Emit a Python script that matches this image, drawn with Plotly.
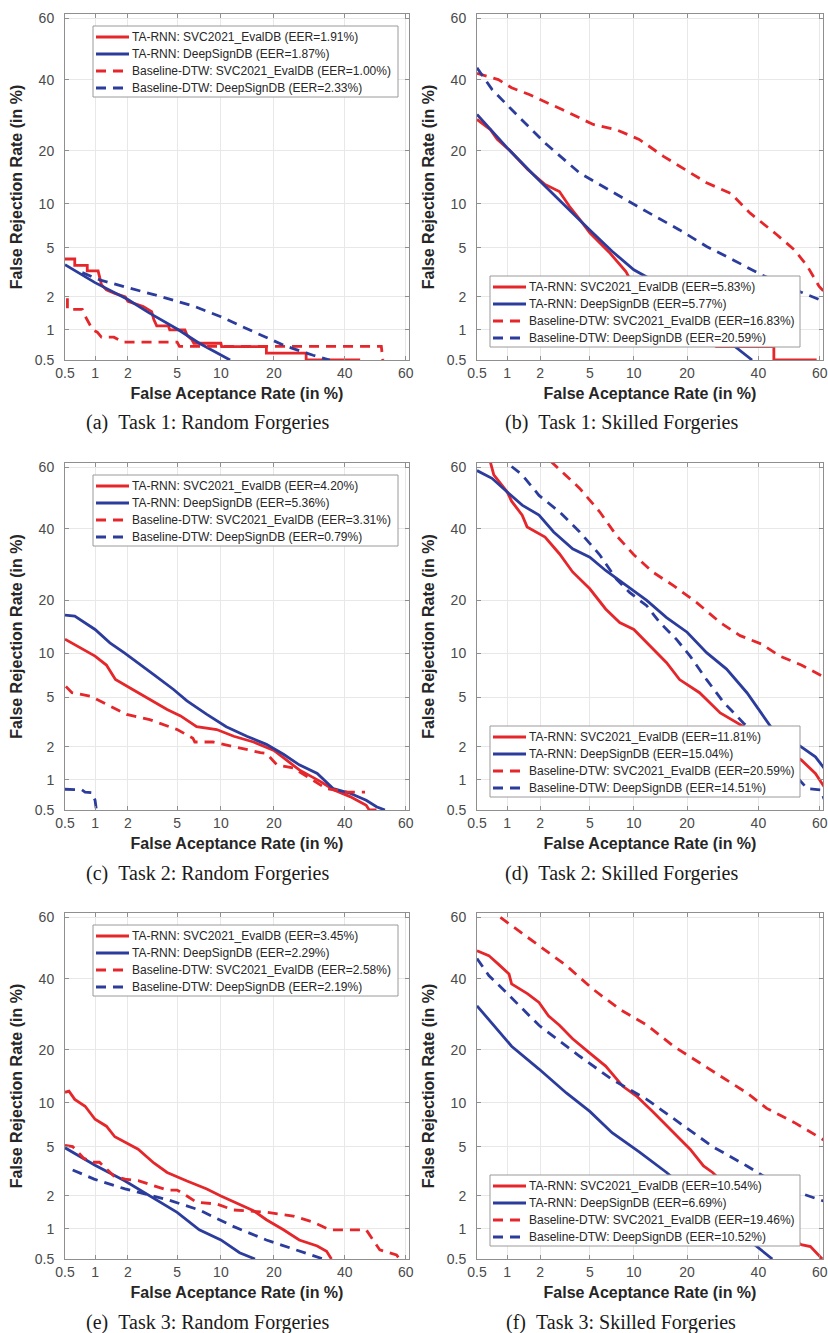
import plotly.graph_objects as go
from statistics import NormalDist

# ---------------- data (FAR / FRR in %) ----------------
TICK_VALS = [0.5, 1, 2, 5, 10, 20, 40, 60]
TICK_TEXT = ["0.5", "1", "2", "5", "10", "20", "40", "60"]

SERIES = ["TA-RNN: SVC2021_EvalDB", "TA-RNN: DeepSignDB",
          "Baseline-DTW: SVC2021_EvalDB", "Baseline-DTW: DeepSignDB"]

CAPTIONS = ["(a)\u00a0\u00a0Task 1: Random Forgeries", "(b)\u00a0\u00a0Task 1: Skilled Forgeries",
            "(c)\u00a0\u00a0Task 2: Random Forgeries", "(d)\u00a0\u00a0Task 2: Skilled Forgeries",
            "(e)\u00a0\u00a0Task 3: Random Forgeries", "(f)\u00a0\u00a0Task 3: Skilled Forgeries"]

EER_A = ["1.91", "1.87", "1.00", "2.33"]
EER_B = ["5.83", "5.77", "16.83", "20.59"]
EER_C = ["4.20", "5.36", "3.31", "0.79"]
EER_D = ["11.81", "15.04", "20.59", "14.51"]
EER_E = ["3.45", "2.29", "2.58", "2.19"]
EER_F = ["10.54", "6.69", "19.46", "10.52"]

# Panel (a)
a_rnn_svc_far = [0.5, 0.63, 0.63, 0.84, 0.84, 1.07, 1.15, 1.28, 1.53, 1.9, 2.0, 2.7, 3.17, 3.3, 3.48, 4.3, 4.4,
                 5.7, 5.9, 6.4, 6.6, 10.0, 10.1, 18.3, 18.3, 28.3, 28.3, 45]
a_rnn_svc_frr = [4.1, 4.1, 3.65, 3.65, 3.3, 3.3, 2.55, 2.3, 2.15, 2.0, 1.83, 1.65, 1.48, 1.25, 1.09, 1.09, 1.0,
                 1.0, 0.89, 0.8, 0.74, 0.74, 0.685, 0.685, 0.59, 0.59, 0.5, 0.5]
a_rnn_deep_far = [0.5, 1.0, 2.0, 3.0, 5.0, 7.2, 11.4]
a_rnn_deep_frr = [3.7, 2.65, 1.9, 1.45, 1.02, 0.74, 0.5]
a_dtw_svc_far = [0.53, 0.53, 0.75, 0.8, 0.95, 1.05, 1.15, 1.5, 1.8, 5.0, 5.2, 52, 52.5]
a_dtw_svc_frr = [1.95, 1.55, 1.55, 1.35, 1.0, 0.95, 0.85, 0.85, 0.76, 0.76, 0.69, 0.69, 0.5]
a_dtw_deep_far = [0.75, 1.1, 2.0, 3.3, 6.5, 10, 15.6, 23, 30.3, 35.3]
a_dtw_deep_frr = [3.2, 2.8, 2.4, 2.1, 1.67, 1.33, 0.96, 0.69, 0.56, 0.5]

# Panel (b)
b_rnn_svc_far = [0.5, 0.685, 0.8, 1.07, 1.55, 2.2, 2.9, 3.5, 4.2, 5.0, 6.9, 8.9, 9.4, 15, 22, 27.4, 45, 45, 59]
b_rnn_svc_frr = [28.0, 25.2, 22.7, 19.9, 15.9, 13.1, 11.9, 9.6, 7.9, 6.4, 4.6, 3.27, 2.87, 1.8, 1.0, 0.685, 0.685, 0.5, 0.5]
b_rnn_deep_far = [0.5, 1.03, 1.8, 3.05, 5.0, 7.2, 10, 12, 22.8, 38]
b_rnn_deep_frr = [29.4, 20.3, 14.6, 10.1, 6.7, 4.7, 3.37, 2.95, 1.29, 0.5]
b_dtw_svc_far = [0.5, 0.82, 1.1, 1.6, 3.05, 5.3, 7.7, 10.8, 15, 18.3, 24.8, 31.5, 37.4, 46, 51.8, 56, 59.8, 61.5]
b_dtw_svc_frr = [42, 40, 37.4, 35.3, 30.8, 26.6, 25.2, 22.7, 18.7, 16.6, 13.4, 11.6, 8.7, 6.2, 4.8, 3.6, 2.46, 2.2]
b_dtw_deep_far = [0.5, 0.71, 1.1, 2.2, 4.2, 8.1, 12, 18.3, 24.8, 32.5, 41, 54, 61.5]
b_dtw_deep_frr = [43.8, 36.9, 30.8, 21.8, 15.2, 11.1, 8.9, 6.7, 5.1, 4.0, 3.07, 2.2, 1.82]

# Panel (c)
c_rnn_svc_far = [0.5, 0.66, 1.0, 1.28, 1.55, 2.2, 3.05, 4.2, 5.3, 6.9, 9.4, 12, 15.6, 20, 23, 26.4, 32.5, 36.4,
                 41.7, 47, 48, 50.4]
c_rnn_svc_frr = [12.2, 11.1, 9.6, 8.4, 6.7, 5.7, 4.82, 4.04, 3.6, 2.95, 2.8, 2.46, 2.2, 1.86, 1.53, 1.24, 0.96, 0.8,
                 0.685, 0.56, 0.5, 0.5]
c_rnn_deep_far = [0.5, 0.63, 1.0, 1.38, 1.89, 2.45, 3.4, 4.7, 5.9, 8.1, 10.8, 14.3, 18.3, 22.3, 26.4, 31.5, 36.4,
                  41.7, 47, 50.4, 53.2]
c_rnn_deep_frr = [16.7, 16.5, 13.9, 11.6, 10, 8.7, 7.1, 5.7, 4.7, 3.7, 2.95, 2.46, 2.1, 1.72, 1.38, 1.15, 0.82,
                  0.74, 0.63, 0.54, 0.5]
c_dtw_svc_far = [0.51, 0.59, 0.9, 1.38, 1.95, 3.05, 3.9, 5.0, 6.5, 6.7, 8.9, 12, 17, 18.3, 20.7, 24.8, 28.5, 34.3, 41, 46.6]
c_dtw_svc_frr = [6.0, 5.4, 5.1, 4.3, 3.7, 3.37, 3.1, 2.8, 2.37, 2.2, 2.2, 2.0, 1.78, 1.75, 1.38, 1.29, 1.07, 0.82, 0.76, 0.76]
c_dtw_deep_far = [0.5, 0.74, 0.8, 0.93, 1.0, 1.03]
c_dtw_deep_frr = [0.81, 0.8, 0.76, 0.75, 0.63, 0.5]

# Panel (d)
d_rnn_svc_far = [0.68, 0.74, 1.0, 1.1, 1.38, 1.53, 2.2, 2.9, 3.7, 5, 6.5, 8.1, 10, 12, 15.6, 18.3, 23, 28.5, 35.3,
                 45, 54, 58.6, 61.8]
d_rnn_svc_frr = [62, 57.6, 52, 49, 44.4, 40.6, 37.4, 32.3, 27.1, 22.7, 18.0, 15.2, 13.9, 11.6, 8.7, 6.7, 5.4, 3.8,
                 2.95, 2.1, 1.53, 1.15, 0.82]
d_rnn_deep_far = [0.5, 0.71, 1.0, 1.38, 1.95, 2.6, 3.7, 5, 6.5, 8.9, 12, 15.6, 20, 24.8, 30.3, 36.4, 41, 44, 54,
                  58.6, 61.8]
d_rnn_deep_frr = [59, 56.5, 52, 47.7, 44.4, 39, 33.8, 31.3, 27.5, 23.5, 19.9, 16.2, 13.4, 10.1, 7.9, 5.4, 3.8,
                  2.95, 2.0, 1.63, 1.24]
d_dtw_svc_far = [2.45, 3.05, 4.2, 5.9, 7.7, 10, 13, 17, 22.3, 28.5, 34.3, 41, 47, 54, 61.8]
d_dtw_svc_frr = [62, 58.6, 53.2, 45.5, 37.9, 32, 27.1, 23.5, 19.4, 15.2, 12.8, 11.4, 9.6, 8.4, 6.9]
d_dtw_deep_far = [1.1, 1.38, 1.95, 2.9, 4.2, 5.9, 7.7, 9.4, 12, 14.3, 17.6, 20.7, 24.8, 29.4, 35.3, 45, 56, 60.2, 61.8]
d_dtw_deep_frr = [60.3, 57.6, 50.9, 45.5, 39, 32, 25.2, 21.8, 18.7, 15.2, 12.2, 9.6, 6.7, 4.6, 3.17, 1.8, 0.82, 0.8, 0.6]

# Panel (e)
e_rnn_svc_far = [0.5, 0.55, 0.63, 0.8, 1.0, 1.28, 1.53, 1.89, 2.45, 3.3, 4.2, 5.9, 8.1, 10, 13, 15.6, 18.3, 22.3,
                 26.4, 31.5, 34.3, 35.8]
e_rnn_svc_frr = [11.6, 11.8, 10.5, 9.5, 7.8, 7.0, 5.9, 5.35, 4.78, 3.75, 3.15, 2.68, 2.3, 2.0, 1.7, 1.48, 1.22, 0.98,
                 0.78, 0.68, 0.6, 0.5]
e_rnn_deep_far = [0.5, 1.0, 1.89, 3.05, 5.0, 7.2, 10, 13, 15.9]
e_rnn_deep_frr = [4.9, 3.6, 2.68, 2.0, 1.43, 0.98, 0.78, 0.58, 0.5]
e_dtw_svc_far = [0.5, 0.6, 0.77, 0.93, 1.1, 1.5, 1.89, 2.45, 4.2, 5, 5.9, 6.9, 9.4, 12, 18.3, 24.8, 30.3, 35.3, 47,
                 49.2, 51.5, 57, 58]
e_dtw_svc_frr = [5.1, 5.0, 4.1, 3.8, 3.8, 2.95, 2.78, 2.7, 2.25, 2.25, 2.0, 1.76, 1.7, 1.5, 1.43, 1.32, 1.16, 0.98,
                 0.98, 0.78, 0.62, 0.55, 0.5]
e_dtw_deep_far = [0.6, 0.98, 1.89, 2.45, 4.2, 7.2, 12, 18.3, 26.4, 33.3]
e_dtw_deep_frr = [3.3, 2.78, 2.3, 2.15, 1.86, 1.5, 1.05, 0.78, 0.6, 0.5]

# Panel (f)
f_rnn_svc_far = [0.5, 0.66, 0.82, 1.04, 1.1, 1.55, 1.95, 2.35, 2.9, 3.7, 5, 6.5, 8.5, 10.4, 13, 17, 20.7, 24, 26.4,
                 40, 54, 57, 59, 60.8]
f_rnn_svc_frr = [49.1, 47.5, 44.7, 41.5, 38.3, 35.2, 32.6, 28.7, 26.1, 22.6, 19.2, 16.4, 12.6, 11.0, 8.8, 6.3, 4.78,
                 3.55, 3.15, 1.3, 0.7, 0.67, 0.58, 0.5]
f_rnn_deep_far = [0.5, 1.1, 1.95, 3.3, 5, 7.2, 10.8, 15.6, 25, 38.5, 44.5]
f_rnn_deep_frr = [31.6, 20.8, 15.8, 11.5, 8.8, 6.3, 4.56, 3.15, 1.6, 0.72, 0.5]
f_dtw_svc_far = [0.86, 1.1, 2.2, 3.3, 5.3, 8.1, 12, 17, 23, 30.3, 36.4, 42.7, 51.8, 61.8]
f_dtw_svc_frr = [60, 57.4, 49.4, 44.2, 36.6, 30.6, 26.2, 20.8, 17.1, 13.8, 11.5, 9.2, 7.4, 5.5]
f_dtw_deep_far = [0.5, 0.66, 0.98, 1.95, 4.2, 7.2, 12, 18.3, 26.4, 36.4, 47, 61.8]
f_dtw_deep_frr = [46.5, 41, 35.6, 26.1, 18.5, 13.8, 10.5, 7.4, 5.0, 3.55, 2.43, 1.78]

# ---------------- figure ----------------
W, H = 828, 1333
OFF = 0          # body margin is removed after plotting (see post_script)
RED = "#e5262a"
BLUE = "#2c3c9c"
DASH = "10px,7px"
LW = 2.8
nd = NormalDist()


def probit(vals):
    return [nd.inv_cdf(v / 100.0) for v in vals]


panels = [
    ([(a_rnn_svc_far, a_rnn_svc_frr), (a_rnn_deep_far, a_rnn_deep_frr),
      (a_dtw_svc_far, a_dtw_svc_frr), (a_dtw_deep_far, a_dtw_deep_frr)], EER_A, "top"),
    ([(b_rnn_svc_far, b_rnn_svc_frr), (b_rnn_deep_far, b_rnn_deep_frr),
      (b_dtw_svc_far, b_dtw_svc_frr), (b_dtw_deep_far, b_dtw_deep_frr)], EER_B, "bottom"),
    ([(c_rnn_svc_far, c_rnn_svc_frr), (c_rnn_deep_far, c_rnn_deep_frr),
      (c_dtw_svc_far, c_dtw_svc_frr), (c_dtw_deep_far, c_dtw_deep_frr)], EER_C, "top"),
    ([(d_rnn_svc_far, d_rnn_svc_frr), (d_rnn_deep_far, d_rnn_deep_frr),
      (d_dtw_svc_far, d_dtw_svc_frr), (d_dtw_deep_far, d_dtw_deep_frr)], EER_D, "bottom"),
    ([(e_rnn_svc_far, e_rnn_svc_frr), (e_rnn_deep_far, e_rnn_deep_frr),
      (e_dtw_svc_far, e_dtw_svc_frr), (e_dtw_deep_far, e_dtw_deep_frr)], EER_E, "top"),
    ([(f_rnn_svc_far, f_rnn_svc_frr), (f_rnn_deep_far, f_rnn_deep_frr),
      (f_dtw_svc_far, f_dtw_svc_frr), (f_dtw_deep_far, f_dtw_deep_frr)], EER_F, "bottom"),
]

styles = [(RED, "solid"), (BLUE, "solid"), (RED, DASH), (BLUE, DASH)]

# page-pixel layout of each plot box (left, right) / (top, bottom)
COL_X = [(65, 409), (477, 823)]
ROW_Y = [(14, 360), (463, 810), (913, 1259)]

XR = [nd.inv_cdf(0.005), 0.28]
YR = [nd.inv_cdf(0.005), 0.29]
tickz = probit(TICK_VALS)


def px(x):
    return (x - OFF) / W


def py(y):
    return 1 - (y - OFF) / H


fig = go.Figure()
layout = dict(width=W, height=H, margin=dict(l=0, r=0, t=0, b=0, pad=0), autosize=False,
              paper_bgcolor="white", plot_bgcolor="white", showlegend=False,
              annotations=[], shapes=[])

axis_common = dict(tickvals=tickz, ticktext=TICK_TEXT, showgrid=True, gridcolor="#e8e8e8", gridwidth=1,
                   zeroline=False, showline=True, linecolor="#8f8f8f", linewidth=1, mirror="ticks",
                   ticks="inside", ticklen=4, tickcolor="#8f8f8f", automargin=False,
                   ticklabeloverflow="allow",
                   tickfont=dict(family="Liberation Sans, Arial", size=14, color="#4a4a4a"),
                   fixedrange=True)
title_font = dict(family="Liberation Sans, Arial", size=16, color="#262626", weight="bold")
leg_font = dict(family="Liberation Sans, Arial", size=12, color="#262626")

for i, (curves, eers, legpos) in enumerate(panels):
    r, c = divmod(i, 2)
    L, R = COL_X[c]
    T, B = ROW_Y[r]
    n = i + 1
    xa = "x" if n == 1 else f"x{n}"
    ya = "y" if n == 1 else f"y{n}"
    for (far, frr), name, eer, (col, dash) in zip(curves, SERIES, eers, styles):
        fig.add_trace(go.Scatter(x=probit(far), y=probit(frr), mode="lines",
                                 line=dict(color=col, width=LW, dash=dash),
                                 name=f"{name} (EER={eer}%)", xaxis=xa, yaxis=ya,
                                 hoverinfo="skip"))
    layout["xaxis" if n == 1 else f"xaxis{n}"] = dict(
        axis_common, domain=[px(L), px(R)], range=XR, anchor=ya,
        title=dict(text="False Aceptance Rate (in %)", font=title_font, standoff=8))
    layout["yaxis" if n == 1 else f"yaxis{n}"] = dict(
        axis_common, domain=[py(B), py(T)], range=YR, anchor=xa, ticklabelstandoff=7,
        title=dict(text="False Rejection Rate (in %)", font=title_font, standoff=8))

    # legend box (drawn in the figure, entries from SERIES / EER lists)
    if legpos == "top":
        bx0, bx1, by0 = L + 28, R - 11, T + 12
    else:
        bx0, bx1, by0 = L + 13, R - 23, B - 84
    by1 = by0 + 71
    layout["shapes"].append(dict(type="rect", xref="paper", yref="paper",
                                 x0=px(bx0), x1=px(bx1), y0=py(by1), y1=py(by0),
                                 fillcolor="white", line=dict(color="#9a9a9a", width=1), layer="above"))
    for k, (name, eer, (col, dash)) in enumerate(zip(SERIES, eers, styles)):
        ry = by0 + 11 + k * 17
        layout["shapes"].append(dict(type="line", xref="paper", yref="paper",
                                     x0=px(bx0 + 3), x1=px(bx0 + 36), y0=py(ry), y1=py(ry),
                                     line=dict(color=col, width=LW, dash=dash), layer="above"))
        layout["annotations"].append(dict(
            text=f"{name} (EER={eer}%)", x=px(bx0 + 37), y=py(ry), xref="paper", yref="paper",
            xanchor="left", yanchor="middle", showarrow=False, font=leg_font))

    cx = (0 + 414) / 2 if c == 0 else (414 + 828) / 2
    layout["annotations"].append(dict(
        text=CAPTIONS[i], x=px(cx), y=py(B + 63), xref="paper", yref="paper",
        xanchor="center", yanchor="middle", showarrow=False,
        font=dict(family="Liberation Serif, Times New Roman", size=20, color="#1a1a1a")))

fig.update_layout(**layout)
fig.write_html("out.html", config={"displayModeBar": False, "staticPlot": True},
               post_script="document.body.style.margin='0';document.body.style.overflow='hidden';")
